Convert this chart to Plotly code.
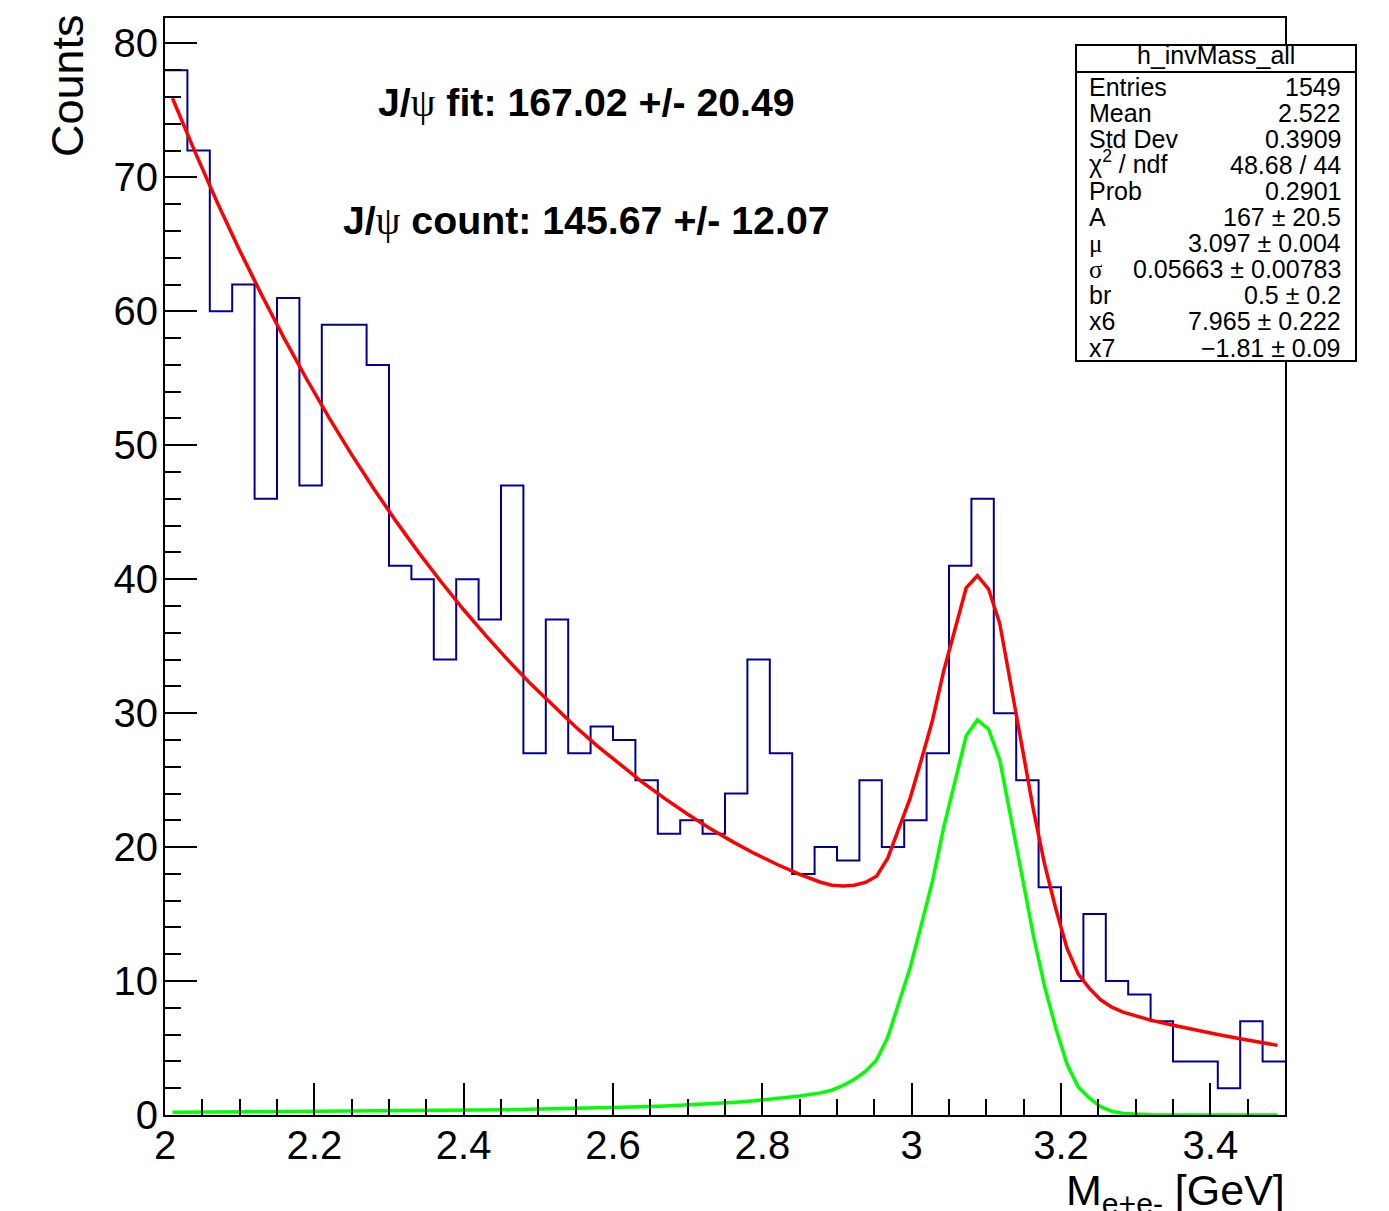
import numpy as np
import plotly.graph_objects as go

# ---------------- data ----------------
bin_low, bin_high, n_bins = 2.0, 3.5, 50
counts = [78, 72, 60, 62, 46, 61, 47, 59, 59, 56,
          41, 40, 34, 40, 37, 47, 27, 37, 27, 29,
          28, 25, 21, 22, 21, 24, 34, 27, 18, 20,
          19, 25, 20, 22, 27, 41, 46, 30, 25, 17,
          10, 15, 10, 9, 7, 4, 4, 2, 7, 4]

curve_x = [2.01, 2.04, 2.07, 2.10, 2.13, 2.16, 2.19, 2.22, 2.25, 2.28,
           2.31, 2.34, 2.37, 2.40, 2.43, 2.46, 2.49, 2.52, 2.55, 2.58,
           2.61, 2.64, 2.67, 2.70, 2.73, 2.76, 2.79, 2.82, 2.85, 2.878,
           2.893, 2.908, 2.923, 2.938, 2.953, 2.968, 2.983, 2.998, 3.013, 3.028,
           3.043, 3.058, 3.073, 3.088, 3.103, 3.118, 3.133, 3.148, 3.163, 3.178,
           3.193, 3.208, 3.223, 3.238, 3.253, 3.268, 3.283, 3.298, 3.32, 3.35,
           3.38, 3.41, 3.44, 3.47, 3.49]

total_fit = [75.91, 71.92, 68.13, 64.55, 61.16, 57.95, 54.91, 52.03, 49.30, 46.72,
             44.28, 41.97, 39.79, 37.72, 35.77, 33.92, 32.17, 30.53, 28.97, 27.50,
             26.12, 24.82, 23.60, 22.45, 21.39, 20.41, 19.51, 18.70, 17.97, 17.38,
             17.16, 17.10, 17.15, 17.36, 17.83, 19.17, 21.41, 23.66, 26.52, 29.49,
             33.17, 36.36, 39.35, 40.26, 39.27, 36.69, 32.22, 27.45, 22.79, 18.74,
             15.40, 12.46, 10.53, 9.45, 8.60, 8.05, 7.68, 7.41, 7.08, 6.70,
             6.34, 6.01, 5.69, 5.39, 5.20]

signal_fit = [0.20, 0.21, 0.21, 0.22, 0.23, 0.24, 0.25, 0.26, 0.27, 0.28,
              0.29, 0.31, 0.33, 0.35, 0.37, 0.39, 0.42, 0.45, 0.48, 0.52,
              0.56, 0.61, 0.67, 0.74, 0.82, 0.93, 1.06, 1.22, 1.42, 1.65,
              1.85, 2.20, 2.65, 3.25, 4.10, 5.80, 8.40, 11.0, 14.2, 17.5,
              21.5, 25.0, 28.3, 29.5, 28.8, 26.5, 22.3, 17.8, 13.4, 9.6,
              6.5, 3.8, 2.1, 1.25, 0.62, 0.28, 0.12, 0.05, 0.01, 0.0,
              0.0, 0.0, 0.0, 0.0, 0.0]

x_tick_vals = [2.0, 2.2, 2.4, 2.6, 2.8, 3.0, 3.2, 3.4]
x_tick_text = ["2", "2.2", "2.4", "2.6", "2.8", "3", "3.2", "3.4"]
y_tick_vals = [0, 10, 20, 30, 40, 50, 60, 70, 80]

stat_title = "h_invMass_all"
stat_labels = ["Entries", "Mean", "Std Dev", "χ<sup>2</sup> / ndf", "Prob", "A",
               "μ", "σ", "br", "x6", "x7"]
stat_values = ["1549", "2.522", "0.3909", "48.68 / 44", "0.2901", "167 ± 20.5",
               "3.097 ± 0.004", "0.05663 ± 0.00783", "0.5 ± 0.2", "7.965 ± 0.222",
               "−1.81 ± 0.09"]

fit_text = "J/ψ fit: 167.02 +/- 20.49"
count_text = "J/ψ count: 145.67 +/- 12.07"

# ---------------- figure ----------------
W, H = 1389, 1211
ML, MR, MT, MB = 165, 104, 18, 96
PW, PH = W - ML - MR, H - MT - MB


def px(xp):
    return (xp - ML) / PW


def py(yp):
    return (H - MB - yp) / PH


edges = np.linspace(bin_low, bin_high, n_bins + 1)
step_y = list(counts) + [counts[-1]]

FONT = "Liberation Sans, Arial, Helvetica, sans-serif"
SERIF = "Liberation Serif, Times New Roman, serif"

fig = go.Figure()
fig.add_trace(go.Scatter(x=edges, y=step_y, mode="lines", line_shape="hv",
                         line=dict(color="#000099", width=2), hoverinfo="skip"))
fig.add_trace(go.Scatter(x=curve_x, y=total_fit, mode="lines",
                         line=dict(color="#ff0000", width=3.5), hoverinfo="skip"))
fig.add_trace(go.Scatter(x=curve_x, y=signal_fit, mode="lines",
                         line=dict(color="#00ff00", width=3.5), hoverinfo="skip"))

axis_common = dict(showgrid=False, zeroline=False, showline=True, mirror=True,
                   linecolor="black", linewidth=2, ticks="inside", ticklen=32,
                   tickwidth=2, tickcolor="black",
                   tickfont=dict(family=FONT, size=40, color="black"))

fig.update_xaxes(range=[bin_low, bin_high], tickmode="array", tickvals=x_tick_vals,
                 ticktext=x_tick_text,
                 minor=dict(dtick=0.05, tick0=2.0, ticks="inside", ticklen=16,
                            tickwidth=2, tickcolor="black"),
                 ticklabelstandoff=-6,
                 **axis_common)
fig.update_yaxes(range=[0, 81.9], tickmode="array", tickvals=y_tick_vals,
                 minor=dict(dtick=2, tick0=0, ticks="inside", ticklen=16,
                            tickwidth=2, tickcolor="black"),
                 ticklabelstandoff=-3,
                 **axis_common)

annotations = []
# axis titles
annotations.append(dict(text="Counts", xref="paper", yref="paper", x=px(68), y=py(86),
                        xanchor="center", yanchor="middle", textangle=-90,
                        showarrow=False, font=dict(family=FONT, size=45, color="black")))
annotations.append(dict(text="M<sub>e+e-</sub> [GeV]", xref="paper", yref="paper",
                        x=px(1287), y=py(1164), xanchor="right", yanchor="top",
                        showarrow=False, font=dict(family=FONT, size=43, color="black")))

# J/psi texts
psi = "<span style='font-family:Liberation Serif; font-weight:normal'>ψ</span>"
annotations.append(dict(text="<b>" + fit_text.replace("ψ", psi) + "</b>",
                        xref="paper", yref="paper", x=px(586), y=py(102),
                        xanchor="center", yanchor="middle", showarrow=False,
                        font=dict(family=FONT, size=39.3, color="black")))
annotations.append(dict(text="<b>" + count_text.replace("ψ", psi) + "</b>",
                        xref="paper", yref="paper", x=px(586), y=py(220),
                        xanchor="center", yanchor="middle", showarrow=False,
                        font=dict(family=FONT, size=39.3, color="black")))

# stats box
bx0, bx1, by0, by1, bhead = 1076, 1356, 45, 361, 72
shapes = [
    dict(type="rect", xref="paper", yref="paper", x0=px(bx0), x1=px(bx1),
         y0=py(by1), y1=py(by0), line=dict(color="black", width=2),
         fillcolor="white", layer="above"),
    dict(type="line", xref="paper", yref="paper", x0=px(bx0), x1=px(bx1),
         y0=py(bhead), y1=py(bhead), line=dict(color="black", width=2), layer="above"),
]
annotations.append(dict(text=stat_title, xref="paper", yref="paper",
                        x=px((bx0 + bx1) / 2), y=py(55.5), xanchor="center", yanchor="middle",
                        showarrow=False, font=dict(family=FONT, size=25, color="black")))
row0, drow = 86.5, 26.1
for i, (lab, val) in enumerate(zip(stat_labels, stat_values)):
    yc = row0 + i * drow
    fam = SERIF if lab in ("μ", "σ") else FONT
    ylab = yc - 3 if "<sup>" in lab else yc
    annotations.append(dict(text=lab, xref="paper", yref="paper", x=px(1087), y=py(ylab),
                            xanchor="left", yanchor="middle", showarrow=False,
                            font=dict(family=fam, size=25, color="black")))
    annotations.append(dict(text=val, xref="paper", yref="paper", x=px(1343), y=py(yc),
                            xanchor="right", yanchor="middle", showarrow=False,
                            font=dict(family=FONT, size=25, color="black")))

fig.update_layout(width=W, height=H, margin=dict(l=ML, r=MR, t=MT, b=MB, pad=0),
                  paper_bgcolor="white", plot_bgcolor="white", showlegend=False,
                  annotations=annotations, shapes=shapes)

fig.write_html("out.html")
